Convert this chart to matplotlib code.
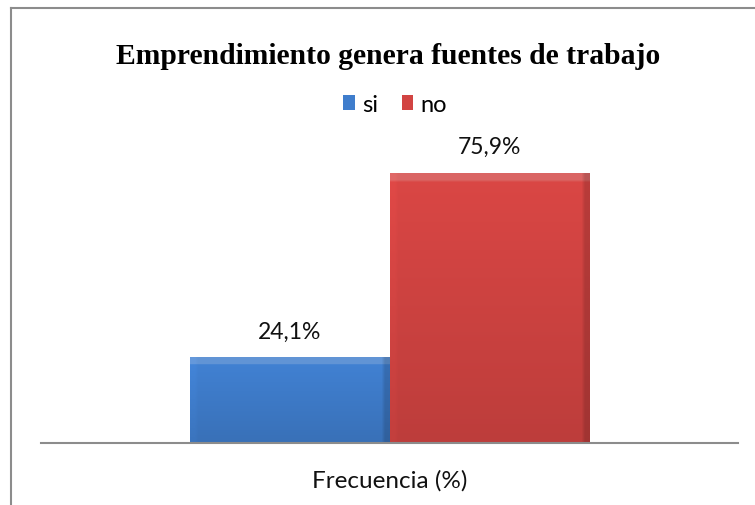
import numpy as np
import matplotlib.pyplot as plt
from matplotlib.patches import Patch
from matplotlib.lines import Line2D
from matplotlib.colors import to_rgb

# Datos del gráfico
titulo = 'Emprendimiento genera fuentes de trabajo'
categoria = 'Frecuencia (%)'
series = ['si', 'no']
valores = [24.1, 75.9]
etiquetas = ['24,1%', '75,9%']
colores = ['#3f7dcc', '#d24442']

fig = plt.figure(figsize=(7.55, 5.06), dpi=100)
ax = fig.add_axes([41 / 755, 62 / 506, 697 / 755, 285 / 506])

ancho = 0.2865
posiciones = [-ancho / 2, ancho / 2]
barras = ax.bar(posiciones, valores, width=ancho, color=colores, zorder=2)

ax.set_xlim(-0.5, 0.5)
ax.set_ylim(0, 80)


def degradado(rect, color):
    # imagen con relieve: franja superior clara, bordes laterales y degradado vertical
    base = np.array(to_rgb(color))
    h, w = 120, 60
    img = np.zeros((h, w, 3))
    x0, y0 = rect.get_x(), rect.get_y()
    x1, y1 = x0 + rect.get_width(), y0 + rect.get_height()
    p0 = ax.transData.transform((x0, y0))
    p1 = ax.transData.transform((x1, y1))
    alto_px = p1[1] - p0[1]
    ancho_px = p1[0] - p0[0]
    bisel_y = 7 / alto_px
    bisel_x = 5 / ancho_px
    for i in range(h):
        t = i / (h - 1)  # 0 arriba, 1 abajo
        fila = base * (1.04 - 0.14 * t)
        if t < bisel_y:
            fila = base + (1 - base) * 0.18
        img[i, :, :] = fila
    for j in range(w):
        s = j / (w - 1)
        if s < bisel_x:
            img[:, j, :] = img[:, j, :] * 1.03
        elif s > 1 - bisel_x:
            img[:, j, :] = img[:, j, :] * 0.85
    img = np.clip(img, 0, 1)
    im = ax.imshow(img, extent=(x0, x1, y0, y1), aspect='auto', zorder=3,
                   interpolation='bilinear')
    im.set_clip_path(rect)


fig.canvas.draw()
for b, c in zip(barras, colores):
    degradado(b, c)

for b, txt in zip(barras, etiquetas):
    ax.annotate(txt, (b.get_x() + b.get_width() / 2, b.get_height()),
                xytext=(0, 11), textcoords='offset points', ha='center', va='bottom',
                fontsize=16.5, family='Lato', color='#111111')

ax.set_xticks([0])
ax.set_xticklabels([categoria], fontsize=17.5, family='Lato', color='#111111')
ax.tick_params(axis='x', length=0, pad=19)
ax.set_yticks([])
for lado in ['top', 'right', 'left']:
    ax.spines[lado].set_visible(False)
ax.spines['bottom'].set_color('#8c8c8c')
ax.spines['bottom'].set_linewidth(1.5)
ax.spines['bottom'].set_zorder(4)

fig.text(0.514, 1 - 56 / 506, titulo, ha='center', va='center', fontsize=21.3,
         fontweight='bold', family='Liberation Serif')

manijas = [Patch(facecolor=c, edgecolor='none') for c in colores]
fig.legend(manijas, series, loc='center', bbox_to_anchor=(395 / 755, 1 - 105 / 506),
           ncol=2, frameon=False, prop={'family': 'Lato', 'size': 17},
           handlelength=0.5, handleheight=0.62, handletextpad=0.3, columnspacing=1.0)

# marco del gráfico
gris = '#8c8c8c'
fig.add_artist(Line2D([11 / 755, 1], [1 - 9 / 506, 1 - 9 / 506], color=gris, lw=1.5,
                      transform=fig.transFigure))
fig.add_artist(Line2D([11 / 755, 11 / 755], [0, 1 - 9 / 506], color=gris, lw=1.5,
                      transform=fig.transFigure))

fig.savefig('out.png', dpi=100)
